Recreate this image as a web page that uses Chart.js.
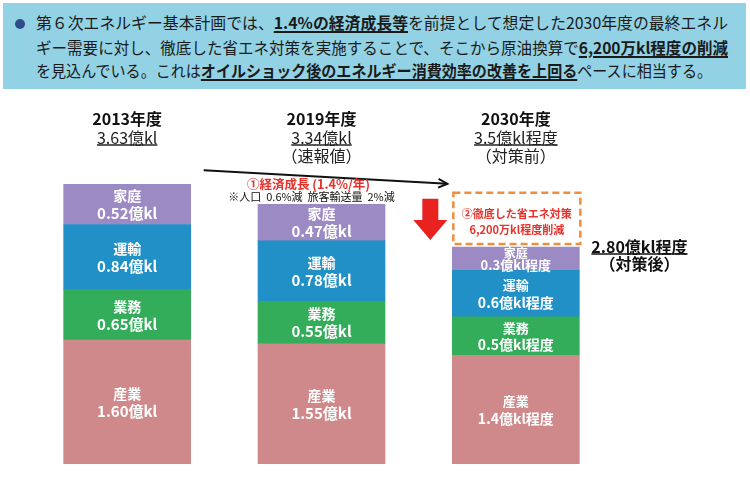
<!DOCTYPE html>
<html><head><meta charset="utf-8">
<script src="https://cdn.jsdelivr.net/npm/chart.js@4.4.1/dist/chart.umd.min.js"></script>
<style>
html,body{margin:0;padding:0;background:#fff;}
#wrap{position:relative;width:750px;height:493px;overflow:hidden;font-family:"Noto Sans CJK JP","Noto Sans",sans-serif;}
#c{position:absolute;left:0;top:0;}
#head{position:absolute;left:3px;top:3px;width:743px;height:86px;background:#93d2e4;}
.ln{position:absolute;left:33px;white-space:nowrap;font-size:16px;color:#1a1a1a;transform-origin:0 50%;line-height:20px;}
.ln b{text-decoration:underline;text-decoration-thickness:1.5px;text-underline-offset:2px;}
#bul{position:absolute;left:12px;top:16px;width:10px;height:10px;border-radius:50%;background:#2f4d8a;}
</style></head>
<body>
<div id="wrap">
  <canvas id="c" width="750" height="493"></canvas>
  <div id="head">
    <div id="bul"></div>
    <div class="ln" id="l1" data-w="692" style="top:9px">第６次エネルギー基本計画では、<b>1.4%の経済成長等</b>を前提として想定した2030年度の最終エネル</div>
    <div class="ln" id="l2" data-w="692" style="top:34px">ギー需要に対し、徹底した省エネ対策を実施することで、そこから原油換算で<b>6,200万kl程度の削減</b></div>
    <div class="ln" id="l3" data-w="676" style="top:57px">を見込んでいる。これは<b>オイルショック後のエネルギー消費効率の改善を上回る</b>ペースに相当する。</div>
  </div>
</div>
<script>
// ---- data ----
const years = ['2013年度', '2019年度', '2030年度'];
const totalLabels = ['3.63億kl', '3.34億kl', '3.5億kl程度'];
const subLabels = ['', '（速報値）', '（対策前）'];
const sectors = ['産業', '業務', '運輸', '家庭'];
const sangyo = [1.60, 1.55, 1.4];
const gyomu  = [0.65, 0.55, 0.5];
const unyu   = [0.84, 0.78, 0.6];
const katei  = [0.52, 0.47, 0.3];
const reduction = [null, null, 0.7];
const valueDecimals = [2, 2, 1];
const valueSuffix = ['億kl', '億kl', '億kl程度'];
const growthNote = '①経済成長 (1.4%/年)';
const popNote = '※人口  0.6%減  旅客輸送量  2%減';
const cutNote1 = '②徹底した省エネ対策';
const cutNote2 = '6,200万kl程度削減';
const afterTotal = '2.80億kl程度';
const afterNote = '（対策後）';

const FF = '"Noto Sans CJK JP","Noto Sans",sans-serif';
const colors = ['#d0898b', '#34ad5b', '#2190c7', '#9b8ac4'];
const RED = '#e8312a';

function text(ctx, s, x, y, font, color, align, underline) {
  ctx.save();
  ctx.font = font; ctx.fillStyle = color;
  ctx.textAlign = align || 'center'; ctx.textBaseline = 'middle';
  ctx.fillText(s, x, y);
  if (underline) {
    const w = ctx.measureText(s).width;
    let x0 = x;
    if (ctx.textAlign === 'center') x0 = x - w / 2;
    else if (ctx.textAlign === 'right') x0 = x - w;
    ctx.strokeStyle = color; ctx.lineWidth = 1.5;
    ctx.beginPath(); ctx.moveTo(x0, y + underline); ctx.lineTo(x0 + w, y + underline); ctx.stroke();
  }
  ctx.restore();
}

const annot = {
  id: 'annot',
  afterDatasetsDraw(chart) {
    const ctx = chart.ctx;
    const topMeta = chart.getDatasetMeta(3).data;
    const xs = topMeta.map(e => e.x);
    const tops = topMeta.map(e => e.y);
    const bw = topMeta[0].width;
    // headings above bars
    years.forEach((y, i) => {
      text(ctx, y, xs[i], 119, 'bold 16px ' + FF, '#111');
      text(ctx, totalLabels[i], xs[i], 138, '16px ' + FF, '#222', 'center', 7);
      if (subLabels[i]) text(ctx, subLabels[i], xs[i], 156, '16px ' + FF, '#222');
    });
    // segment labels
    const series = [sangyo, gyomu, unyu, katei];
    series.forEach((arr, d) => {
      chart.getDatasetMeta(d).data.forEach((e, i) => {
        const h = e.base - e.y;
        const cy = (e.y + e.base) / 2;
        const tiny = h < 30;
        const dy = tiny ? 5.5 : Math.min(8.5, Math.max(6.5, h / 2 - 5));
        const small = i === 2;
        text(ctx, sectors[d], e.x, cy - dy, 'bold ' + (tiny ? 12 : small ? 13 : 14) + 'px ' + FF, '#fff');
        text(ctx, arr[i].toFixed(valueDecimals[i]) + valueSuffix[i], e.x, cy + dy + 0.5,
             'bold ' + (tiny ? 13 : small ? 14 : 15) + 'px ' + FF, '#fff');
      });
    });
    // dashed reduction box
    const box = chart.getDatasetMeta(4).data[2];
    const bl = box.x - box.width / 2 + 1, br = box.x + box.width / 2 + 1;
    const bt = box.y, bb = box.base - 3;
    ctx.save();
    ctx.setLineDash([7, 4]); ctx.lineWidth = 2.5; ctx.strokeStyle = '#ee8e3e';
    ctx.strokeRect(bl, bt, br - bl, bb - bt);
    ctx.restore();
    const bc = (bt + bb) / 2 + 3;
    text(ctx, cutNote1, box.x + 1, bc - 8, 'bold 11px ' + FF, RED);
    text(ctx, cutNote2, box.x + 1, bc + 8, 'bold 11px ' + FF, RED);
    // red down arrow
    const ax = bl - 23, aTop = bt + 6, aTip = tops[2] - 7, headH = 20;
    ctx.save();
    ctx.fillStyle = '#e8221f';
    ctx.beginPath();
    ctx.moveTo(ax - 8, aTop); ctx.lineTo(ax + 8, aTop); ctx.lineTo(ax + 8, aTip - headH);
    ctx.lineTo(ax + 17, aTip - headH); ctx.lineTo(ax, aTip); ctx.lineTo(ax - 17, aTip - headH);
    ctx.lineTo(ax - 8, aTip - headH); ctx.closePath(); ctx.fill();
    ctx.restore();
    // black arrow from 2013 bar to 2030 box
    const sx = xs[0] + bw / 2 + 13, sy = tops[0] - 14;
    const ex = bl - 6, ey = bt - 9;
    ctx.save();
    ctx.strokeStyle = '#111'; ctx.lineWidth = 2;
    ctx.beginPath(); ctx.moveTo(sx, sy); ctx.lineTo(ex, ey); ctx.stroke();
    const ang = Math.atan2(ey - sy, ex - sx);
    ctx.beginPath();
    ctx.moveTo(ex - 10 * Math.cos(ang - 0.45), ey - 10 * Math.sin(ang - 0.45));
    ctx.lineTo(ex, ey);
    ctx.lineTo(ex - 10 * Math.cos(ang + 0.45), ey - 10 * Math.sin(ang + 0.45));
    ctx.stroke();
    ctx.restore();
    // growth notes above 2019 bar
    text(ctx, growthNote, xs[1] - 13, tops[1] - 20, 'bold 12.5px ' + FF, RED);
    text(ctx, popNote, xs[1] - 10, tops[1] - 7.5, '11px ' + FF, '#111');
    // after-measures total
    const rx = xs[2] + bw / 2 + 12;
    text(ctx, afterTotal, rx, tops[2], 'bold 16px ' + FF, '#111', 'left', 7);
    ctx.save(); ctx.font = 'bold 16px ' + FF; const tw = ctx.measureText(afterTotal).width; ctx.restore();
    text(ctx, afterNote, rx + tw / 2, tops[2] + 17, 'bold 16px ' + FF, '#111');
  }
};

new Chart(document.getElementById('c'), {
  type: 'bar',
  data: {
    labels: years,
    datasets: [
      { label: sectors[0], data: sangyo, backgroundColor: colors[0] },
      { label: sectors[1], data: gyomu, backgroundColor: colors[1] },
      { label: sectors[2], data: unyu, backgroundColor: colors[2] },
      { label: sectors[3], data: katei, backgroundColor: colors[3] },
      { label: '削減', data: reduction, backgroundColor: 'rgba(0,0,0,0)' }
    ]
  },
  options: {
    responsive: false, animation: false, devicePixelRatio: 1,
    layout: { padding: { left: 30, right: 137, top: 154, bottom: 29 } },
    scales: {
      x: { stacked: true, display: false },
      y: { stacked: true, display: false, min: 0, max: 4 }
    },
    datasets: { bar: { barThickness: 127, borderWidth: 0 } },
    plugins: { legend: { display: false }, tooltip: { enabled: false } }
  },
  plugins: [annot]
});

// fit header lines to the reference widths
document.querySelectorAll('.ln').forEach(el => {
  const w = el.getBoundingClientRect().width;
  const t = +el.dataset.w;
  el.style.transform = 'scaleX(' + (t / w) + ')';
});
</script>
</body></html>
